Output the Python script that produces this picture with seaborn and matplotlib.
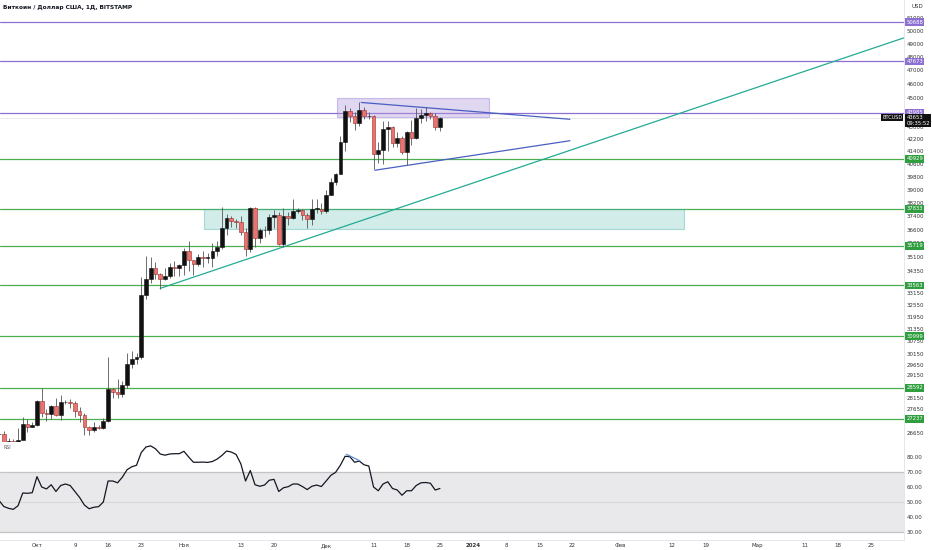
import numpy as np
import pandas as pd
import matplotlib
matplotlib.use("Agg")
import matplotlib.pyplot as plt
from matplotlib.patches import Rectangle
import seaborn as sns

# daily candles, Bitstamp BTC/USD
dates = pd.date_range("2023-09-23", "2023-12-25", freq="D")
opens = [26580, 26580, 26250, 26300, 26220, 26360, 27020, 26910,
         26970, 27990, 27500, 27430, 27790, 27420, 27950, 27970, 27930, 27590,
         27390, 26870, 26760, 26870, 26860, 27160, 28520, 28410, 28330, 28720,
         29680, 29920, 29990, 33080, 33920, 34500, 34150, 33900, 34090, 34530, 34500,
         34660, 35420, 34940, 34730, 35080, 35030, 35040, 35420, 35630, 36700,
         37310, 37140, 37070, 36500, 35550, 37880, 36160, 36590, 36600, 37380,
         37450, 35800, 37440, 37290, 37720, 37800, 37470, 37240, 37830, 37860,
         37720, 38690, 39460, 39970, 41990, 44080, 43770, 43290, 44170, 43730,
         43790, 41240, 41480, 42890, 43020, 41940, 42260, 41370, 42660, 42270,
         43650, 43860, 43990, 43730, 43020]
highs = [26640, 26720, 26430, 26390, 26830, 27300, 27230, 27090,
         28050, 28600, 27670, 27830, 28130, 28280, 28030, 28100, 27990, 27730,
         27480, 26950, 27100, 26970, 27290, 30000, 28600, 28970, 28910, 30200,
         30300, 30200, 34000, 35150, 35100, 34840, 34240, 34470, 34750, 34860, 34720,
         35580, 35960, 34940, 35260, 35400, 35290, 35890, 35970, 37950, 37530,
         37400, 37220, 37420, 36750, 37980, 37950, 36720, 36850, 37560, 37800,
         37640, 37880, 37650, 38440, 37900, 37830, 37590, 38400, 38400, 38180,
         38980, 39700, 40000, 42400, 44500, 44300, 44050, 44700, 44370, 44040,
         43800, 42050, 43450, 43410, 43090, 42710, 42430, 42750, 43480, 44290,
         44230, 44400, 44040, 43940, 43670]
lows = [26500, 26140, 26000, 26100, 26100, 26330, 26680, 26880,
        26950, 27330, 27160, 27220, 27370, 27180, 27860, 27700, 27300, 27120,
        26550, 26560, 26700, 26810, 26820, 27110, 28120, 28150, 28180, 28600,
        29480, 29660, 29890, 32880, 33700, 33900, 33400, 33870, 33950, 34080, 34080,
        34130, 34350, 34100, 34580, 34530, 34750, 34530, 35120, 35550, 36350,
        36780, 36750, 36330, 35120, 35370, 35620, 35880, 36190, 36400, 36700,
        35750, 35650, 36890, 37260, 37620, 37180, 36720, 36880, 37590, 37530,
        37620, 38650, 39300, 39970, 41420, 43350, 42800, 43080, 43580, 43590,
        40250, 40680, 40600, 41450, 41680, 41700, 41250, 40530, 41820, 42200,
        43300, 43400, 43580, 42800, 42770]
closes = [26580, 26250, 26300, 26220, 26360, 27020, 26910, 26970,
          27990, 27500, 27430, 27790, 27420, 27950, 27970, 27930, 27590, 27390,
          26870, 26760, 26870, 26860, 27160, 28520, 28410, 28330, 28720, 29680,
          29920, 29990, 33080, 33920, 34500, 34150, 33900, 34090, 34530, 34500, 34660,
          35420, 34940, 34730, 35080, 35030, 35040, 35420, 35630, 36700, 37310,
          37140, 37070, 36500, 35550, 37880, 36160, 36590, 36600, 37380, 37450,
          35800, 37440, 37290, 37720, 37800, 37470, 37240, 37830, 37860, 37720,
          38690, 39460, 39970, 41990, 44080, 43770, 43290, 44170, 43730, 43790,
          41240, 41480, 42890, 43020, 41940, 42260, 41370, 42660, 42270, 43650,
          43860, 43990, 43730, 43020, 43653]

rsi = [51, 47, 45.8, 45.1, 47.5, 56, 55.8, 56.2,
       66.9, 60, 58.7, 61.5, 57, 61, 62, 61, 57, 53,
       48, 45.5, 46.5, 46.9, 50, 64, 64, 62.8, 66.5, 71.5,
       73.5, 74.5, 83, 86.7, 87.4, 85.5, 82, 81.2, 82, 82.2, 82.2,
       83.8, 80, 76.5, 76.5, 76.6, 76.4, 77, 78.6, 81, 84,
       83.3, 81.7, 75.5, 64, 71, 61.5, 60.5, 61.3, 64.5, 65.1,
       57, 59.5, 60.2, 62, 62, 60.3, 58.3, 60.5, 61.3, 60.3,
       64, 67.8, 69.8, 74.5, 80.5, 80.2, 76.5, 77.3, 74.8, 74,
       60, 57.5, 62, 63.5, 59, 58, 54.5, 57.5, 57.5, 61,
       62.8, 63, 62.5, 58, 59]

last_price = 43653
countdown = "09:35:52"
purple_levels = [50688, 47673, 43985]
green_levels = [40929, 37833, 35719, 33563, 30999, 28592, 27237]

price_ticks = [51000, 50000, 49000, 48000, 47000, 46000, 45000, 44000, 43000,
               42200, 41400, 40600, 39800, 39000, 38200, 37400, 36600, 35850,
               35100, 34350, 33150, 32550, 31950, 31350, 30750, 30150,
               29650, 29150, 28650, 28150, 27650, 26650]
rsi_ticks = [30, 40, 50, 60, 70, 80]

xtick_dates = ["2023-10-01", "2023-10-09", "2023-10-16", "2023-10-23", "2023-11-01",
               "2023-11-13", "2023-11-20", "2023-12-01", "2023-12-11", "2023-12-18",
               "2023-12-25", "2024-01-01", "2024-01-08", "2024-01-15", "2024-01-22",
               "2024-02-01", "2024-02-12", "2024-02-19", "2024-03-01", "2024-03-11",
               "2024-03-18", "2024-03-25"]
xtick_labels = ["Окт", "9", "16", "23", "Ноя", "13", "20", "Дек", "11", "18", "25",
                "2024", "8", "15", "22", "Фев", "12", "19", "Мар", "11", "18", "25"]

# drawings: (start, end, low, high) zones and two-point lines
top_zone = ["2023-12-03 08:00", "2024-01-04 10:00", 43720, 45030]
base_zone = ["2023-11-05 05:00", "2024-02-14 12:00", 36640, 37860]
trend_t = ["2023-10-27 00:00", "2024-03-31 21:00"]
trend_p = [33410, 49460]
tri_up_t = ["2023-12-08 10:00", "2024-01-21 10:00"]
tri_up_p = [44700, 43540]
tri_lo_t = ["2023-12-11 07:00", "2024-01-21 10:00"]
tri_lo_p = [40200, 42100]
rsi_div_t = ["2023-12-05 07:00", "2023-12-08 02:00"]
rsi_div_v = [81.8, 77.5]

t0 = pd.Timestamp("2023-10-01")


def dnum(t):
    return (pd.to_datetime(t) - t0) / pd.Timedelta(days=1)


x = np.asarray(dnum(dates))
o, h, l, c = map(np.asarray, (opens, highs, lows, closes))

sns.set_theme(style="white")
plt.rcParams["font.family"] = ["DejaVu Sans"]

fig = plt.figure(figsize=(9.32, 5.5), dpi=100)
W = 904 / 932
ax = fig.add_axes([0, 108 / 550, W, 442 / 550])
ax_r = fig.add_axes([0, 10 / 550, W, 98 / 550], sharex=ax)

purple = "#8d6fd1"
green = "#4caf50"

# ---- price pane
ax.set_yscale("log")
ax.set_ylim(26266, 52481)
ax.set_xlim(-7.8, 182.9)

for lv in purple_levels:
    ax.axhline(lv, color=purple, lw=0.9, zorder=1)
for lv in green_levels:
    ax.axhline(lv, color=green, lw=0.9, zorder=1)
ax.axhline(last_price, color="#d0d0d0", lw=0.6, ls=(0, (1, 1)), zorder=1)

a, b = dnum(top_zone[0]), dnum(top_zone[1])
ax.add_patch(Rectangle((a, top_zone[2]), b - a, top_zone[3] - top_zone[2],
                       fc="#b39ddb", alpha=0.4, ec=purple, lw=0.8, zorder=1.5))
a, b = dnum(base_zone[0]), dnum(base_zone[1])
ax.add_patch(Rectangle((a, base_zone[2]), b - a, base_zone[3] - base_zone[2],
                       fc="#80cbc4", alpha=0.35, ec="#26a69a", lw=0.8, zorder=1.5))

ax.plot(dnum(trend_t), trend_p, color="#22ab94", lw=0.9, zorder=2)
ax.plot(dnum(tri_up_t), tri_up_p, color="#4a5fc1", lw=0.9, zorder=2)
ax.plot(dnum(tri_lo_t), tri_lo_p, color="#4a5fc1", lw=0.9, zorder=2)

up = c >= o
ax.vlines(x, l, h, color="#555555", lw=0.6, zorder=3)
body_lo = np.minimum(o, c)
body_h = np.maximum(np.abs(c - o), body_lo * 0.0012)
ax.bar(x[up], body_h[up], bottom=body_lo[up], width=0.78, color="#111111",
       edgecolor="#111111", lw=0.4, zorder=4)
ax.bar(x[~up], body_h[~up], bottom=body_lo[~up], width=0.78, color="#e8736f",
       edgecolor="#9e2b2b", lw=0.4, zorder=4)

ax.yaxis.tick_right()
ax.set_yticks(price_ticks, labels=[str(t) for t in price_ticks])
ax.minorticks_off()
ax.tick_params(axis="y", length=0, labelsize=4, pad=1.8, labelcolor="#333333")
ax.tick_params(axis="x", bottom=False, labelbottom=False)
for s in ["top", "left"]:
    ax.spines[s].set_visible(False)
ax.spines["right"].set_color("#e0e3eb")
ax.spines["bottom"].set_color("#d1d4dc")
ax.spines["right"].set_linewidth(0.6)
ax.spines["bottom"].set_linewidth(0.6)

lbl_tr = ax.get_yaxis_transform()
for lv in purple_levels:
    ax.text(1.0025, lv, str(lv), transform=lbl_tr, fontsize=3.8, color="white",
            va="center", ha="left", clip_on=False, zorder=6,
            bbox=dict(boxstyle="square,pad=0.25", fc=purple, ec="none"))
for lv in green_levels:
    ax.text(1.0025, lv, str(lv), transform=lbl_tr, fontsize=3.8, color="white",
            va="center", ha="left", clip_on=False, zorder=6,
            bbox=dict(boxstyle="square,pad=0.25", fc="#2e9e3e", ec="none"))
ax.annotate(f"{last_price}\n{countdown}", xy=(1.0025, last_price),
            xycoords=lbl_tr, xytext=(0, -2.2), textcoords="offset points",
            fontsize=3.8, color="white", va="center", ha="left",
            linespacing=1.1, annotation_clip=False, zorder=7,
            bbox=dict(boxstyle="square,pad=0.25", fc="#111111", ec="none"))
ax.text(0.998, last_price, "BTCUSD", transform=lbl_tr, fontsize=3.6,
        color="white", va="center", ha="right", clip_on=False, zorder=7,
        bbox=dict(boxstyle="square,pad=0.25", fc="#111111", ec="none"))

ax.text(3 / 904, 1 - 7 / 442, "Биткоин / Доллар США, 1Д, BITSTAMP",
        transform=ax.transAxes, fontsize=4.2, fontweight="bold",
        color="#131722", va="center", ha="left")
fig.text(912 / 932, 1 - 6 / 550, "USD", fontsize=4, color="#333333",
         va="center", ha="left")

# ---- RSI pane
ax_r.set_ylim(24.67, 90)
ax_r.axhspan(30, 70, color="#e9e9eb", lw=0, zorder=0)
ax_r.axhline(70, color="#c4c4c4", lw=0.9, zorder=1)
ax_r.axhline(30, color="#c4c4c4", lw=0.9, zorder=1)
ax_r.axhline(50, color="#d6d6d6", lw=0.7, zorder=1)
sns.lineplot(x=x, y=rsi, ax=ax_r, color="#131722", lw=0.9, zorder=3)
ax_r.plot(dnum(rsi_div_t), rsi_div_v, color="#5b8fd8", lw=0.9, zorder=4)
ax_r.text(3 / 904, 0.94, "RSI", transform=ax_r.transAxes, fontsize=3.4,
          color="#555555", va="center", ha="left")

ax_r.yaxis.tick_right()
ax_r.set_yticks(rsi_ticks, labels=[f"{v:.2f}" for v in rsi_ticks])
ax_r.tick_params(axis="y", length=0, labelsize=4, pad=1.8, labelcolor="#333333")
ax_r.set_xticks(dnum(xtick_dates), labels=xtick_labels)
ax_r.tick_params(axis="x", length=0, labelsize=4, pad=2.2, labelcolor="#333333")
for t in ax_r.get_xticklabels():
    if t.get_text() == "2024":
        t.set_fontweight("bold")
ax_r.set_xlabel("")
ax_r.set_ylabel("")
for s in ["top", "left"]:
    ax_r.spines[s].set_visible(False)
ax_r.spines["right"].set_color("#e0e3eb")
ax_r.spines["bottom"].set_color("#e0e3eb")
ax_r.spines["right"].set_linewidth(0.6)
ax_r.spines["bottom"].set_linewidth(0.6)
ax_r.set_xlim(-7.8, 182.9)

fig.savefig("out.png", dpi=100)
